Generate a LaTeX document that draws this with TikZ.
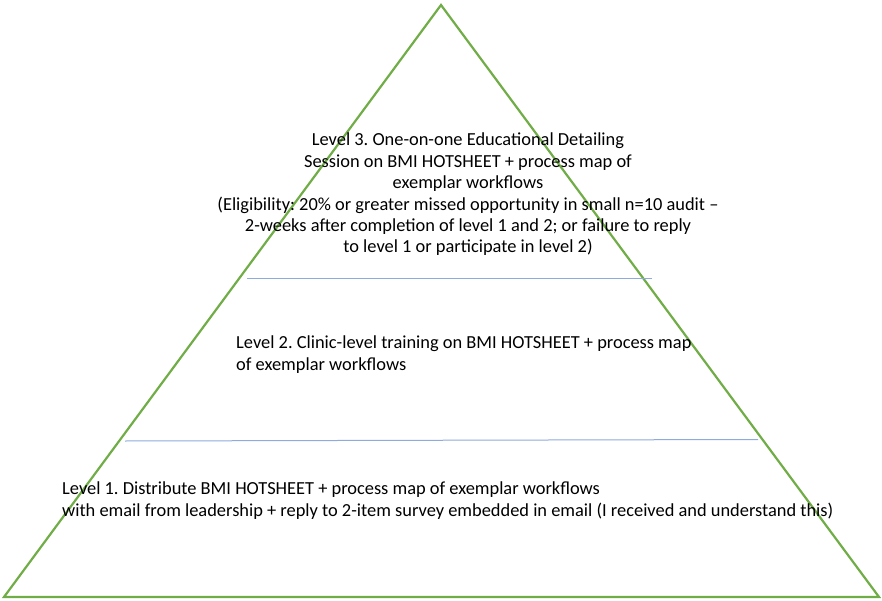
\documentclass[tikz,border=0pt]{standalone}
\usepackage{fontspec}
\setmainfont{Carlito}
\frenchspacing
\definecolor{pyrgreen}{HTML}{70AD47}
\definecolor{tierblue}{HTML}{8FAADC}
\begin{document}
\begin{tikzpicture}[x=1pt,y=-1pt,
  edge/.style={draw=pyrgreen,line width=2.2pt,line join=miter},
  divider/.style={draw=tierblue,line width=1pt},
  lbl/.style={inner sep=0pt,font=\fontsize{18.4}{21.4}\selectfont}]
\useasboundingbox (0,0) rectangle (882,601);
% pyramid outline
\coordinate (apex) at (441,5);
\coordinate (bl) at (4,597);
\coordinate (br) at (879,597);
\draw[edge] (apex) -- (bl) -- (br) -- cycle;
% tier dividers
\coordinate (d1l) at (247,278.5);
\coordinate (d1r) at (652,278.5);
\coordinate (d2l) at (125,441);
\coordinate (d2r) at (758,439.5);
\draw[divider] (d1l) -- (d1r);
\draw[divider] (d2l) -- (d2r);
% tier texts
\node[lbl,align=center,anchor=north] (t3) at (468,133) {Level 3. One-on-one Educational Detailing\\
Session on BMI HOTSHEET + process map of\\
exemplar workflows\\
(Eligibility: 20\% or greater missed opportunity in small n=10 audit --\\
2-weeks after completion of level 1 and 2; or failure to reply\\
to level 1 or participate in level 2)};
\node[lbl,align=left,anchor=north west] (t2) at (236,336) {Level 2. Clinic-level training on BMI HOTSHEET + process map\\
of exemplar workflows};
\node[lbl,align=left,anchor=north west] (t1) at (62,482) {Level 1. Distribute BMI HOTSHEET + process map of exemplar workflows\\
with email from leadership + reply to 2-item survey embedded in email (I received and understand this)};
\end{tikzpicture}
\end{document}
